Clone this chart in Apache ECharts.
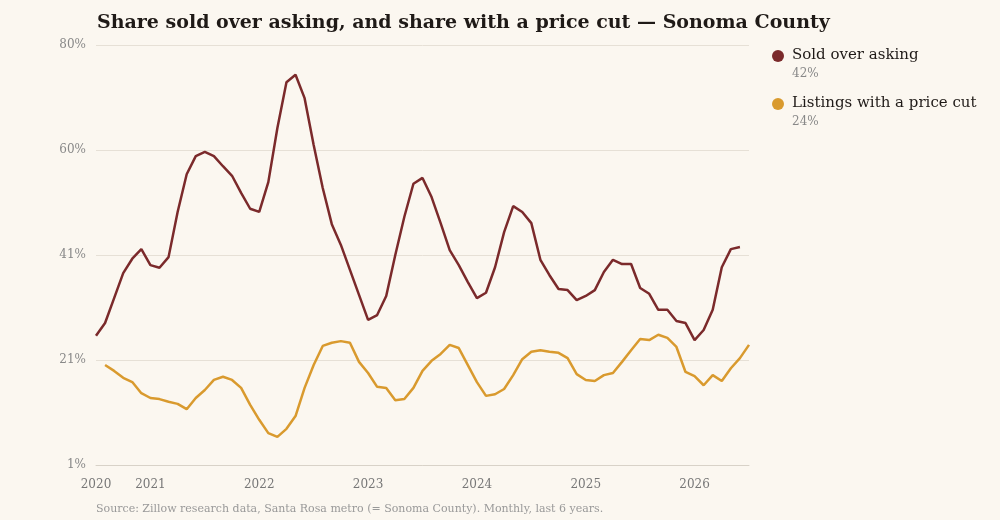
<!DOCTYPE html>
<html>
<head>
<meta charset="utf-8">
<script src="https://cdn.jsdelivr.net/npm/echarts@6/dist/echarts.min.js"></script>
<style>
  html, body { margin: 0; padding: 0; background: #fbf7f0; }
  #main { width: 1000px; height: 520px; }
</style>
</head>
<body>
<div id="main"></div>
<script>
// monthly, Jul 2020 .. Jul 2026
var months = [];
for (var y = 2020; y <= 2026; y++) {
  for (var m = 1; m <= 12; m++) {
    if ((y === 2020 && m < 7) || (y === 2026 && m > 7)) continue;
    months.push(y + '-' + (m < 10 ? '0' + m : m));
  }
}

var soldOver = [25.3, 27.7, 32.4, 37.1, 39.8, 41.6, 38.6, 38.1, 40.1, 48.6, 55.7, 59.1,
  59.9, 59.1, 57.2, 55.4, 52.2, 49.2, 48.6, 54.2, 64.4, 73.0, 74.4, 70.0,
  61.2, 53.1, 46.3, 42.4, 37.7, 33.0, 28.3, 29.2, 32.8, 40.5, 47.7, 53.9,
  55.0, 51.4, 46.5, 41.4, 38.6, 35.4, 32.4, 33.4, 38.2, 44.8, 49.7, 48.6,
  46.5, 39.6, 36.7, 34.1, 33.9, 32.0, 32.8, 33.9, 37.3, 39.6, 38.8, 38.8,
  34.3, 33.2, 30.2, 30.2, 28.1, 27.7, 24.5, 26.4, 30.2, 38.2, 41.6, 42.0, null];

var priceCut = [null, 19.8, 18.7, 17.4, 16.6, 14.5, 13.6, 13.4, 12.9, 12.5, 11.5, 13.6,
  15.1, 17.0, 17.6, 17.0, 15.5, 12.3, 9.5, 7.0, 6.3, 7.8, 10.2, 15.5,
  19.8, 23.4, 24.0, 24.3, 24.0, 20.4, 18.3, 15.7, 15.5, 13.2, 13.4, 15.5,
  18.7, 20.6, 21.9, 23.6, 23.0, 19.8, 16.6, 14.0, 14.3, 15.3, 17.9, 20.9,
  22.3, 22.6, 22.3, 22.1, 21.1, 18.1, 17.0, 16.8, 17.9, 18.3, 20.4, 22.6,
  24.7, 24.5, 25.5, 24.9, 23.2, 18.5, 17.7, 16.0, 17.9, 16.8, 19.2, 21.1, 23.6];

var seriesNames = ['Sold over asking', 'Listings with a price cut'];
var colors = ['#7b2a2b', '#d99a2e'];

function lastVal(arr) {
  for (var i = arr.length - 1; i >= 0; i--) if (arr[i] != null) return arr[i];
}

var font = '"DejaVu Serif", serif';
var chart = echarts.init(document.getElementById('main'));
var option = {
  backgroundColor: '#fbf7f0',
  animation: false,
  title: {
    text: 'Share sold over asking, and share with a price cut \u2014 Sonoma County',
    left: 92, top: 9,
    textStyle: { fontFamily: font, fontSize: 19, fontWeight: 'bold', color: '#1f1a17' }
  },
  grid: { left: 96, right: 251, top: 45, bottom: 55 },
  xAxis: {
    type: 'category',
    data: months,
    boundaryGap: false,
    axisLine: { show: true, lineStyle: { color: '#d8d2c8' } },
    axisTick: { show: false },
    axisLabel: {
      color: '#777', fontFamily: font, fontSize: 12, margin: 14,
      interval: function (i, v) { return i === 0 || v.slice(5) === '01'; },
      formatter: function (v) { return v.slice(0, 4); }
    },
    splitLine: { show: false }
  },
  yAxis: {
    type: 'value',
    min: 1, max: 80, interval: 19.75,
    axisLine: { show: false },
    axisTick: { show: false },
    axisLabel: {
      color: '#888', fontFamily: font, fontSize: 12, margin: 10,
      formatter: function (v) { return Math.round(v) + '%'; }
    },
    splitLine: { lineStyle: { color: '#e6e0d6' } }
  },
  series: [
    { name: seriesNames[0], type: 'line', data: soldOver, showSymbol: false,
      lineStyle: { color: colors[0], width: 2.5 }, itemStyle: { color: colors[0] } },
    { name: seriesNames[1], type: 'line', data: priceCut, showSymbol: false,
      lineStyle: { color: colors[1], width: 2.5 }, itemStyle: { color: colors[1] } }
  ],
  graphic: [
    { type: 'circle', shape: { cx: 778, cy: 56, r: 6 }, style: { fill: colors[0] } },
    { type: 'text', left: 792, top: 48, style: { text: seriesNames[0], font: '15px ' + font, fill: '#1f1a17' } },
    { type: 'text', left: 792, top: 68, style: { text: Math.round(lastVal(soldOver)) + '%', font: '12px ' + font, fill: '#888' } },
    { type: 'circle', shape: { cx: 778, cy: 104, r: 6 }, style: { fill: colors[1] } },
    { type: 'text', left: 792, top: 96, style: { text: seriesNames[1], font: '15px ' + font, fill: '#1f1a17' } },
    { type: 'text', left: 792, top: 116, style: { text: Math.round(lastVal(priceCut)) + '%', font: '12px ' + font, fill: '#888' } },
    { type: 'text', left: 96, top: 504, style: { text: 'Source: Zillow research data, Santa Rosa metro (= Sonoma County). Monthly, last 6 years.', font: '11px ' + font, fill: '#999' } }
  ]
};
chart.setOption(option);
</script>
</body>
</html>
